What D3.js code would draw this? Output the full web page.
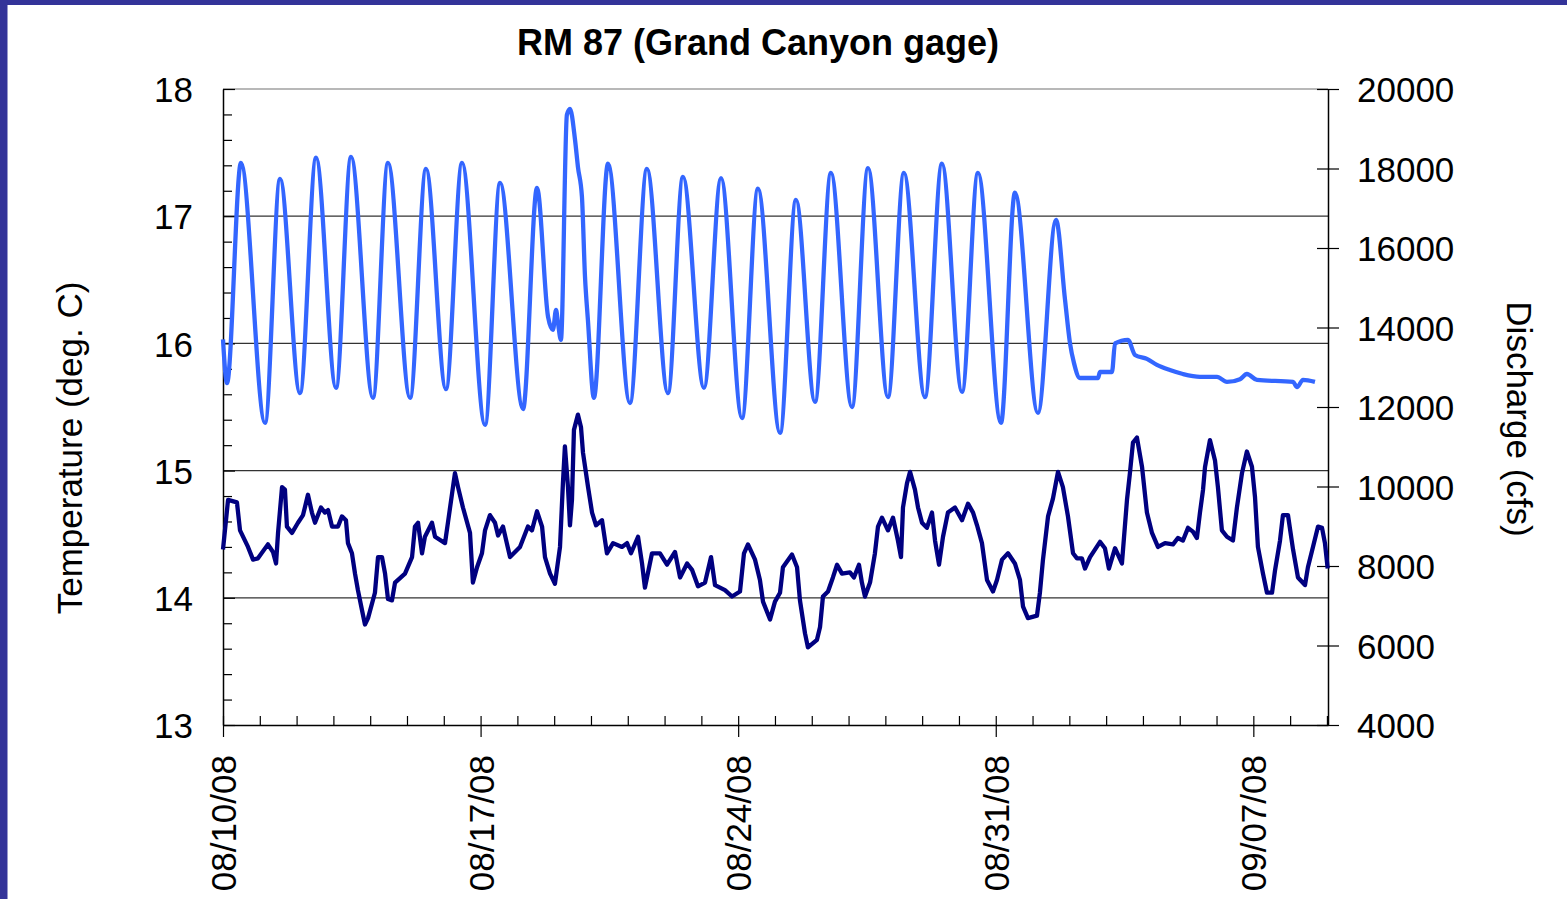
<!DOCTYPE html>
<html>
<head>
<meta charset="utf-8">
<script src="https://cdn.jsdelivr.net/npm/d3@7/dist/d3.min.js"></script>
<style>
  html, body { margin: 0; padding: 0; background: #fff; }
  svg { display: block; }
  text { font-family: "Liberation Sans", Arial, sans-serif; fill: #000; }
</style>
</head>
<body>
<svg id="chart" width="1567" height="899"></svg>
<script>
// ---------------- data ----------------
const chartTitle = "RM 87 (Grand Canyon gage)";
const leftAxisTitle = "Temperature (deg. C)";
const rightAxisTitle = "Discharge (cfs)";

// hours after 08/10/08 00:00
const dischargeHours = [0, 2.6, 11.7, 27.4, 37.2, 50.2, 60.7, 73.7, 83.5, 97.8, 107.6, 122.0, 132.4, 145.4, 155.9,
  170.9, 180.7, 195.7, 204.8, 212.0, 215.2, 217.2, 218.5, 220.4, 224.3, 226.3, 229.6, 231.5, 234.1, 236.1, 238.0,
  241.9, 251.1, 265.4, 276.5, 290.2, 300.0, 313.7, 324.8, 338.5, 348.9, 363.3, 373.7, 386.1, 396.5, 410.2, 420.7,
  433.7, 444.1, 457.8, 468.9, 482.0, 492.4, 507.4, 516.5, 531.5, 543.3, 549.2, 552.4, 555.0, 558.9, 570.7, 572.0,
  579.8, 581.8, 590.2, 594.8, 602.6, 609.1, 617.6, 626.1, 637.2, 648.3, 654.8, 663.3, 667.8, 674.4, 697.9, 700.5,
  704.4, 712.2];
const dischargeCfs = [13700, 12600, 18140, 11600, 17740, 12350, 18270, 12480, 18290, 12230, 18140, 12230, 17990, 12450, 18140,
  11550, 17640, 11950, 17510, 14270, 13940, 14440, 14110, 13690, 19350, 19500, 18720, 18040, 17290, 15280, 14190,
  12230, 18120, 12100, 17990, 12350, 17790, 12480, 17760, 11720, 17490, 11350, 17210, 12130, 17890, 12000, 18010,
  12250, 17890, 12250, 18120, 12380, 17890, 11600, 17390, 11850, 16710, 14690, 13610, 13110, 12730, 12730, 12880,
  12880, 13600, 13690, 13310, 13210, 13060, 12930, 12830, 12760, 12760, 12630, 12700, 12830, 12680, 12630, 12500,
  12680, 12630];

const tempHours = [0, 3.3, 9.1, 11.1, 16.3, 19.6, 22.8, 29.3, 32.6, 34.6, 35.9, 38.5, 40.4, 41.7, 45.0, 48.9, 52.2,
  55.4, 58.0, 60.0, 63.9, 66.5, 68.5, 71.1, 75.0, 77.6, 80.2, 81.5, 84.1, 86.1, 88.0, 90.7, 92.6, 94.6, 99.1, 101.1,
  103.7, 105.7, 107.6, 110.2, 112.2, 118.7, 123.3, 125.2, 127.2, 129.8, 131.7, 136.3, 138.3, 144.8, 146.7, 149.4,
  151.3, 153.3, 156.5, 161.1, 163.0, 165.7, 168.9, 170.9, 174.1, 177.4, 179.4, 182.6, 187.2, 193.7, 198.9, 201.5,
  204.8, 208.1, 210.0, 213.3, 216.5, 219.8, 221.7, 223.0, 225.0, 226.3, 227.6, 228.9, 231.5, 233.5, 234.8, 238.1,
  240.7, 243.3, 247.2, 250.4, 254.4, 260.2, 263.5, 266.1, 270.7, 273.3, 275.2, 279.8, 285.0, 289.6, 294.8, 298.1,
  302.7, 305.9, 309.8, 314.4, 318.3, 320.9, 327.4, 332.0, 337.2, 339.8, 342.4, 347.0, 350.2, 352.2, 356.8, 360.0,
  363.3, 365.2, 371.1, 374.4, 376.3, 379.6, 381.5, 387.4, 389.4, 391.3, 394.6, 397.8, 400.5, 403.7, 408.9, 411.5,
  414.8, 416.7, 418.7, 422.0, 425.2, 427.2, 429.8, 433.7, 437.0, 440.2, 442.2, 443.5, 446.1, 448.1, 451.3, 453.3,
  455.9, 459.1, 462.4, 464.4, 467.0, 469.6, 472.8, 477.4, 482.0, 485.9, 489.2, 491.8, 495.0, 498.3, 502.2, 504.8,
  508.1, 512.0, 516.5, 519.8, 521.8, 525.0, 530.9, 532.8, 534.8, 538.1, 541.3, 544.6, 547.8, 551.1, 554.4, 557.0,
  560.2, 562.2, 565.5, 572.0, 575.2, 577.8, 581.8, 586.3, 589.6, 591.5, 593.5, 596.1, 599.4, 602.6, 605.9, 609.8,
  614.4, 619.6, 622.8, 626.1, 629.4, 632.6, 635.2, 637.2, 639.2, 640.5, 643.7, 647.0, 648.9, 651.5, 654.8, 658.7,
  661.3, 664.6, 667.8, 671.1, 673.1, 675.0, 678.3, 680.9, 684.2, 686.2, 689.4, 691.3, 694.6, 697.9, 701.1, 705.7,
  707.6, 710.9, 714.2, 716.8, 718.7, 720.5];
const tempDegC = [14.38, 14.77, 14.75, 14.53, 14.40, 14.30, 14.31, 14.42, 14.36, 14.27, 14.51, 14.87, 14.85, 14.56, 14.51, 14.59, 14.65,
  14.81, 14.67, 14.59, 14.71, 14.67, 14.69, 14.56, 14.56, 14.64, 14.61, 14.43, 14.35, 14.19, 14.06, 13.90, 13.79, 13.84, 14.04, 14.32,
  14.32, 14.19, 13.99, 13.98, 14.12, 14.19, 14.32, 14.56, 14.59, 14.35, 14.48, 14.59, 14.48, 14.43, 14.59, 14.82,
  14.98, 14.87, 14.71, 14.51, 14.12, 14.24, 14.35, 14.53, 14.65, 14.59, 14.49, 14.56, 14.32, 14.40, 14.56, 14.53,
  14.68, 14.56, 14.32, 14.19, 14.11, 14.40, 14.90, 15.19, 14.87, 14.57, 14.77, 15.32, 15.44, 15.34, 15.14, 14.87,
  14.67, 14.57, 14.61, 14.35, 14.43, 14.40, 14.43, 14.35, 14.48, 14.27, 14.08, 14.35, 14.35, 14.26, 14.36, 14.16,
  14.27, 14.22, 14.09, 14.12, 14.32, 14.10, 14.06, 14.01, 14.05, 14.35, 14.42, 14.30, 14.14, 13.97, 13.83, 13.97,
  14.04, 14.24, 14.34, 14.24, 13.98, 13.72, 13.61, 13.67, 13.77, 14.01, 14.05, 14.16, 14.26, 14.19, 14.20, 14.16,
  14.26, 14.12, 14.01, 14.12, 14.35, 14.56, 14.63, 14.53, 14.63, 14.45, 14.32, 14.71, 14.90, 14.99, 14.85, 14.71,
  14.59, 14.55, 14.67, 14.45, 14.26, 14.48, 14.67, 14.71, 14.61, 14.74, 14.67, 14.57, 14.43, 14.14, 14.05, 14.14,
  14.30, 14.35, 14.27, 14.14, 13.93, 13.84, 13.86, 14.04, 14.30, 14.64, 14.78, 14.99, 14.87, 14.64, 14.35, 14.31,
  14.31, 14.23, 14.32, 14.44, 14.39, 14.23, 14.39, 14.27, 14.77, 14.98, 15.22, 15.26, 15.03, 14.67, 14.51, 14.40,
  14.43, 14.42, 14.47, 14.45, 14.55, 14.52, 14.47, 14.67, 14.85, 15.03, 15.24, 15.08, 14.87, 14.53, 14.48, 14.45,
  14.71, 14.98, 15.15, 15.03, 14.79, 14.40, 14.19, 14.04, 14.04, 14.22, 14.45, 14.65, 14.65, 14.38, 14.16, 14.10,
  14.24, 14.40, 14.56, 14.55, 14.43, 14.23];

const tempTicks = [13, 14, 15, 16, 17, 18];
const tempGrid = [14, 15, 16, 17];
const cfsTicks = [4000, 6000, 8000, 10000, 12000, 14000, 16000, 18000, 20000];
const dateTickLabels = ["08/10/08", "08/17/08", "08/24/08", "08/31/08", "09/07/08"];

// ---------------- drawing ----------------
const W = 1567, H = 899;
const L = 223, R = 1328, T = 89, B = 725;
const svg = d3.select("#chart");

const parseDate = d3.timeParse("%m/%d/%y");
const start = parseDate(dateTickLabels[0]);
const toDate = h => new Date(start.getTime() + h * 3600000);
const end = toDate(720.7);

const x = d3.scaleTime().domain([start, end]).range([L, R]);
const yT = d3.scaleLinear().domain([13, 18]).range([B, T]);
const yQ = d3.scaleLinear().domain([4000, 20000]).range([B, T]);

// frame stripes
svg.append("rect").attr("x", 0).attr("y", 0).attr("width", W).attr("height", 5).attr("fill", "#333399");
svg.append("rect").attr("x", 0).attr("y", 0).attr("width", 7.5).attr("height", H).attr("fill", "#333399");

// plot top border
svg.append("line").attr("x1", L).attr("x2", R).attr("y1", T).attr("y2", T)
  .attr("stroke", "#a0a0a0").attr("stroke-width", 1.5);

// gridlines
svg.append("g").selectAll("line").data(tempGrid).join("line")
  .attr("x1", L).attr("x2", R).attr("y1", d => yT(d)).attr("y2", d => yT(d))
  .attr("stroke", "#333").attr("stroke-width", 1.2);

const fontSize = 35;

// left axis: minor ticks
const minorT = d3.range(13, 18.001, 0.2).map(v => +v.toFixed(1)).filter(v => !tempTicks.includes(v));
svg.append("g").attr("transform", `translate(${L},0)`)
  .call(d3.axisLeft(yT).tickValues(minorT).tickSize(-9).tickFormat(""))
  .call(g => g.select(".domain").remove())
  .selectAll("line").attr("stroke", "#000").attr("stroke-width", 1.2);

// left axis: major
const leftAxis = svg.append("g").attr("transform", `translate(${L},0)`)
  .call(d3.axisLeft(yT).tickValues(tempTicks).tickSize(-12).tickSizeOuter(0).tickPadding(30).tickFormat(d3.format("d")));
leftAxis.select(".domain").attr("stroke", "#000").attr("stroke-width", 1.5);
leftAxis.selectAll(".tick line").attr("stroke", "#000").attr("stroke-width", 1.2);
leftAxis.selectAll("text").attr("font-size", fontSize).attr("dy", "0.36em")
  .style("font-family", "'Liberation Sans', Arial, sans-serif").attr("fill", "#000");

// right axis
const rightAxis = svg.append("g").attr("transform", `translate(${R},0)`)
  .call(d3.axisRight(yQ).tickValues(cfsTicks).tickSize(11).tickSizeOuter(0).tickPadding(18).tickFormat(d3.format("d")));
rightAxis.select(".domain").attr("stroke", "#000").attr("stroke-width", 1.5);
rightAxis.selectAll(".tick line").attr("x1", -11).attr("stroke", "#000").attr("stroke-width", 1.2);
rightAxis.selectAll("text").attr("font-size", fontSize).attr("dy", "0.36em")
  .style("font-family", "'Liberation Sans', Arial, sans-serif").attr("fill", "#000");

// bottom axis: minor day ticks
const weekDates = dateTickLabels.map(parseDate);
const dayTicks = d3.timeDay.range(start, end).filter(d => !weekDates.some(w => +w === +d));
svg.append("g").attr("transform", `translate(0,${B})`)
  .call(d3.axisBottom(x).tickValues(dayTicks).tickSize(-9).tickFormat(""))
  .call(g => g.select(".domain").remove())
  .selectAll("line").attr("stroke", "#000").attr("stroke-width", 1.2);

// bottom axis: major week ticks
const bottomAxis = svg.append("g").attr("transform", `translate(0,${B})`)
  .call(d3.axisBottom(x).tickValues(weekDates).tickSize(12).tickSizeOuter(0).tickFormat(d3.timeFormat("%m/%d/%y")));
bottomAxis.select(".domain").attr("stroke", "#000").attr("stroke-width", 1.5);
bottomAxis.selectAll(".tick line").attr("y1", -9).attr("stroke", "#000").attr("stroke-width", 1.2);
bottomAxis.selectAll("text")
  .attr("font-size", fontSize)
  .style("font-family", "'Liberation Sans', Arial, sans-serif").attr("fill", "#000")
  .attr("transform", "rotate(-90)")
  .attr("x", -30).attr("y", 0).attr("dy", "0.36em")
  .style("text-anchor", "end");

// series
const qData = dischargeHours.map((h, i) => ({ t: toDate(h), v: dischargeCfs[i] }));
const tData = tempHours.map((h, i) => ({ t: toDate(h), v: tempDegC[i] }));

svg.append("path").datum(qData)
  .attr("fill", "none").attr("stroke", "#3366ff").attr("stroke-width", 4.3)
  .attr("stroke-linejoin", "round")
  .attr("d", d3.line().x(d => x(d.t)).y(d => yQ(d.v)).curve(d3.curveMonotoneX));

svg.append("path").datum(tData)
  .attr("fill", "none").attr("stroke", "#000080").attr("stroke-width", 4.3)
  .attr("stroke-linejoin", "round")
  .attr("d", d3.line().x(d => x(d.t)).y(d => yT(d.v)));

// titles
svg.append("text").attr("x", 758).attr("y", 55).attr("text-anchor", "middle")
  .attr("font-size", 36).attr("font-weight", "bold").text(chartTitle);

svg.append("text").attr("transform", "translate(82,448) rotate(-90)").attr("text-anchor", "middle")
  .attr("font-size", fontSize).text(leftAxisTitle);

svg.append("text").attr("transform", "translate(1507,419) rotate(90)").attr("text-anchor", "middle")
  .attr("font-size", fontSize).text(rightAxisTitle);
</script>
</body>
</html>
